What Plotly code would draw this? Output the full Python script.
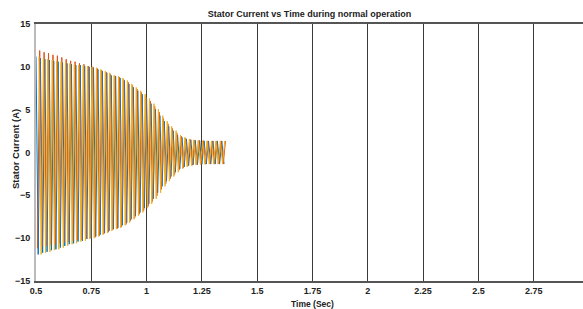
import numpy as np
import plotly.graph_objects as go

# Peak amplitude of each half-cycle (A), t = 0.50 .. 1.36 step 0.01 s
peak_amp = [
    11.2, 11.9, 11.0, 11.7, 10.9, 11.6, 10.8, 11.4, 10.7, 11.3,
    10.6, 11.1, 10.5, 10.9, 10.4, 10.7, 10.3, 10.6, 10.2, 10.4,
    10.2, 10.3, 10.1, 10.1, 10.0, 10.0, 9.9, 9.8, 9.7, 9.6,
    9.5, 9.4, 9.3, 9.15, 9.0, 8.95, 8.9, 8.8, 8.7, 8.5,
    8.4, 8.2, 8.0, 7.8, 7.6, 7.4, 7.2, 7.0, 6.8, 6.5,
    6.3, 6.0, 5.7, 5.4, 5.05, 4.7, 4.3, 3.95, 3.65, 3.35,
    3.05, 2.8, 2.55, 2.3, 2.05, 1.9, 1.78, 1.68, 1.58, 1.52,
    1.48, 1.45, 1.42, 1.4, 1.38, 1.37, 1.36, 1.35, 1.35, 1.35,
    1.35, 1.35, 1.35, 1.35, 1.35, 1.35, 1.35,
]
half_period = 0.01   # 50 Hz supply
t_start = 0.5
t_end = 1.358
phase_names = ["Ia", "Ib", "Ic"]
phase_colors = ["#0072BD", "#D95319", "#EDB120"]
phase_shift = [0.0, 1 / 150, 2 / 150]

x_tickvals = [0.5, 0.75, 1, 1.25, 1.5, 1.75, 2, 2.25, 2.5, 2.75]
x_ticktext = ["0.5", "0.75", "1", "1.25", "1.5", "1.75", "2", "2.25", "2.5", "2.75"]
y_tickvals = [-15, -10, -5, 0, 5, 10, 15]

fig = go.Figure()
amp = np.array(peak_amp)
k = np.arange(len(amp))
for i, (name, color) in enumerate(zip(phase_names, phase_colors)):
    x = t_start + k * half_period + phase_shift[i]
    sign = np.where(k % 2 == 0, 1.0, -1.0) * (1 if i != 1 else -1)
    y = amp * sign
    keep = x <= t_end
    fig.add_trace(go.Scatter(x=x[keep], y=y[keep], mode="lines", name=name,
                             line=dict(color=color, width=1), showlegend=False))

FAM = "Liberation Sans, Arial"
font_t = dict(family=FAM, size=9, color="#222", weight="bold")
fig.update_layout(
    width=583, height=309,
    margin=dict(l=36, r=0, t=24, b=28),
    paper_bgcolor="white", plot_bgcolor="white",
    title=dict(text="Stator Current vs Time during normal operation", x=0.5, xref="paper",
               y=1 - 14 / 309, yref="container", yanchor="middle",
               font=dict(family=FAM, size=9, color="#222", weight="bold")),
    xaxis=dict(range=[0.5, 2.973], tickvals=x_tickvals, ticktext=x_ticktext,
               showgrid=True, gridcolor="#3a3a3a", gridwidth=1.2, zeroline=False,
               showline=True, linecolor="#555", linewidth=1.5, mirror=True,
               ticks="", tickfont=font_t, automargin=False),
    yaxis=dict(range=[-15, 15], tickvals=y_tickvals, showgrid=False, zeroline=False,
               showline=True, linecolor="#bbb", linewidth=2,
               ticks="", tickfont=font_t, automargin=False, ticklabelstandoff=2),
    annotations=[
        dict(text="Time (Sec)", xref="paper", yref="paper", x=(312 - 36) / 547, y=-(304 - 281) / 257,
             xanchor="center", yanchor="middle", showarrow=False,
             font=dict(family=FAM, size=8.5, color="#222", weight="bold")),
        dict(text="Stator Current (A)", xref="paper", yref="paper", x=-(36 - 15) / 547, y=(281 - 149) / 257,
             xanchor="center", yanchor="middle", showarrow=False, textangle=-90,
             font=dict(family=FAM, size=9.5, color="#222", weight="bold")),
    ],
)
fig.write_html("out.html", config={"displayModeBar": False},
               post_script="document.body.style.margin='0';document.body.style.overflow='hidden';")
